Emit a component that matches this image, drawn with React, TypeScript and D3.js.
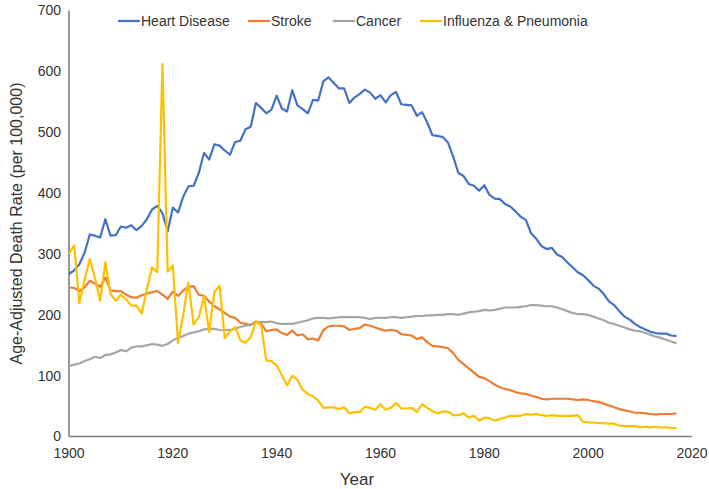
import React from "react";
import * as d3 from "d3";

const years: number[] = d3.range(1900, 2018);

const heartDisease = [
  267, 273, 283, 302, 332, 330, 327, 357, 330, 331,
  345, 343, 347, 339, 346, 357, 373, 379, 367, 337,
  376, 368, 394, 411, 412, 433, 466, 455, 480, 478,
  470, 463, 484, 486, 505, 509, 548, 540, 531, 537,
  560, 539, 534, 569, 544, 538, 531, 553, 552, 584,
  590, 581, 572, 572, 548, 557, 563, 570, 565, 555,
  561, 549, 561, 566, 546, 545, 544, 527, 533, 516,
  495, 494, 492, 483, 460, 433, 428, 415, 412, 404,
  413, 397, 391, 390, 382, 378, 370, 361, 356, 334,
  325, 313, 308, 310, 299, 295, 286, 278, 270, 265,
  257, 248, 243, 234, 222, 216, 206, 197, 192, 185,
  180, 176, 172, 170, 169, 169, 166, 165,
];

const stroke = [
  245, 244, 239, 245, 256, 251, 246, 261, 240, 239,
  239, 233, 229, 228, 232, 235, 237, 239, 233, 226,
  238, 231, 240, 246, 247, 233, 231, 222, 214, 209,
  203, 197, 195, 187, 185, 183, 189, 185, 173, 175,
  176, 170, 167, 174, 166, 168, 160, 161, 158, 175,
  181, 182, 182, 181, 175, 177, 178, 184, 182, 179,
  176, 174, 175, 174, 168, 167, 166, 160, 163, 155,
  149, 148, 147, 145, 137, 126, 119, 112, 105, 98,
  96, 91, 85, 81, 78, 76, 73, 71, 70, 67,
  65, 62, 61, 62, 62, 62, 62, 61, 60, 61,
  60, 58, 57, 54, 51, 48, 45, 43, 41, 39,
  39, 38, 37, 36, 37, 37, 37, 38,
];

const cancer = [
  116, 118, 120, 124, 127, 131, 129, 134, 135, 138,
  142, 140, 146, 148, 148, 150, 152, 151, 149, 152,
  158, 162, 165, 169, 171, 173, 176, 177, 177, 175,
  175, 175, 177, 180, 182, 184, 187, 188, 188, 189,
  186, 185, 185, 185, 187, 189, 191, 194, 195, 195,
  194, 195, 196, 196, 196, 196, 196, 195, 193, 195,
  195, 195, 196, 196, 195, 196, 197, 198, 198, 199,
  199, 200, 200, 201, 201, 200, 202, 204, 205, 206,
  208, 207, 208, 210, 212, 212, 212, 213, 214, 216,
  216, 215, 214, 214, 212, 209, 206, 203, 201, 201,
  200, 197, 194, 191, 187, 185, 182, 179, 176, 174,
  173, 170, 167, 164, 162, 159, 156, 153,
];

const influenzaPneumonia = [
  301, 314, 219, 257, 292, 260, 223, 286, 234, 223,
  233, 225, 215, 215, 202, 241, 278, 270, 612, 271,
  281, 153, 200, 253, 184, 196, 230, 172, 237, 248,
  162, 172, 180, 158, 154, 163, 189, 183, 125, 124,
  117, 101, 84, 100, 93, 77, 70, 66, 59, 47,
  48, 48, 45, 48, 38, 40, 40, 49, 47, 44,
  53, 44, 47, 55, 46, 46, 47, 40, 53, 47,
  42, 38, 41, 41, 35, 35, 38, 31, 34, 26,
  31, 30, 26, 29, 31, 34, 34, 34, 37, 36,
  37, 35, 34, 35, 34, 34, 34, 34, 35, 24,
  23, 23, 22, 22, 21, 21, 18, 17, 17, 17,
  15, 16, 15, 16, 15, 15, 14, 14,
];

const seriesNames = ["Heart Disease", "Stroke", "Cancer", "Influenza & Pneumonia"];
const seriesColors = ["#4472C4", "#ED7D31", "#A5A5A5", "#FFC000"];
const seriesValues = [heartDisease, stroke, cancer, influenzaPneumonia];

const xTicks = [1900, 1920, 1940, 1960, 1980, 2000, 2020];
const yTicks = [0, 100, 200, 300, 400, 500, 600, 700];

const W = 709;
const H = 489;
const FONT = "'Liberation Sans', Arial, Helvetica, sans-serif";
const TEXT = "#333333";

export default function App() {
  const x = d3.scaleLinear().domain([1900, 2020]).range([69, 692]);
  const y = d3.scaleLinear().domain([0, 700]).range([436.5, 10.5]);
  const line = d3
    .line<[number, number]>()
    .x((d) => x(d[0]))
    .y((d) => y(d[1]));

  const legendX = [118, 248, 333, 420];

  return (
    <div style={{ position: "absolute", left: 0, top: 0 }}>
      <svg width={W} height={H} style={{ display: "block", background: "#fff" }}>
        {/* axes */}
        <line x1={x(1900)} x2={x(1900)} y1={y(700)} y2={y(0)} stroke="#7f7f7f" strokeWidth={1.6} />
        <line x1={x(1900)} x2={x(2020)} y1={y(0)} y2={y(0)} stroke="#7f7f7f" strokeWidth={1.6} />

        {yTicks.map((t) => (
          <text
            key={"y" + t}
            x={61}
            y={y(t)}
            dy="0.35em"
            textAnchor="end"
            fontFamily={FONT}
            fontSize={14}
            fill={TEXT}
          >
            {t}
          </text>
        ))}
        {xTicks.map((t) => (
          <text
            key={"x" + t}
            x={x(t)}
            y={458}
            textAnchor="middle"
            fontFamily={FONT}
            fontSize={14}
            fill={TEXT}
          >
            {t}
          </text>
        ))}

        <text x={357} y={485} textAnchor="middle" fontFamily={FONT} fontSize={17} fill={TEXT}>
          Year
        </text>
        <text
          transform={`translate(16,${(y(0) + y(700)) / 2}) rotate(-90)`}
          textAnchor="middle"
          dominantBaseline="central"
          fontFamily={FONT}
          fontSize={16}
          fill={TEXT}
        >
          Age-Adjusted Death Rate (per 100,000)
        </text>

        {/* series */}
        {seriesValues.map((vals, i) => (
          <path
            key={seriesNames[i]}
            d={line(years.map((yr, j) => [yr, vals[j]] as [number, number])) || ""}
            fill="none"
            stroke={seriesColors[i]}
            strokeWidth={2.2}
            strokeLinejoin="round"
          />
        ))}

        {/* legend */}
        {seriesNames.map((n, i) => (
          <g key={"lg" + n} transform={`translate(${legendX[i]},21)`}>
            <line x1={0} x2={22} y1={0} y2={0} stroke={seriesColors[i]} strokeWidth={2.2} />
            <text x={23} y={0} dy="0.35em" fontFamily={FONT} fontSize={14} fill={TEXT}>
              {n}
            </text>
          </g>
        ))}
      </svg>
    </div>
  );
}
